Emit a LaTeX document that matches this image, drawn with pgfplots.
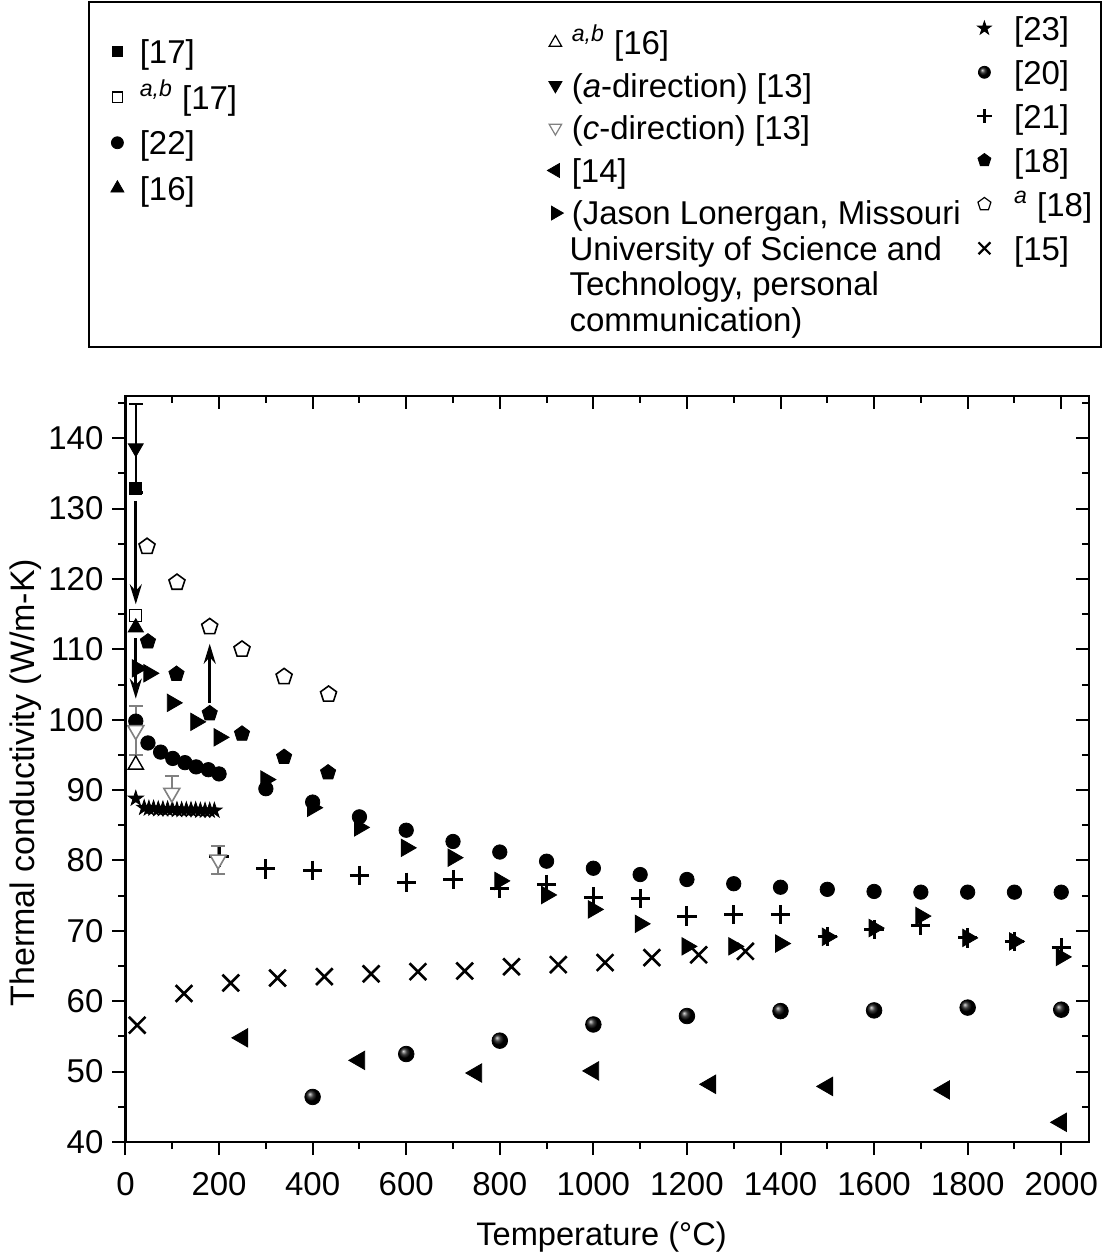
\documentclass[border=0pt]{standalone}
\usepackage{pgfplots}
\pgfplotsset{compat=1.18}
\usepackage{fontspec}
\setmainfont{Liberation Sans}
\usetikzlibrary{arrows.meta,plotmarks}

\pgfdeclareplotmark{fstar}{%
  \pgfpathmoveto{\pgfqpointpolar{90}{\pgfplotmarksize}}%
  \pgfpathlineto{\pgfqpointpolar{126}{0.382\pgfplotmarksize}}%
  \pgfpathlineto{\pgfqpointpolar{162}{\pgfplotmarksize}}%
  \pgfpathlineto{\pgfqpointpolar{198}{0.382\pgfplotmarksize}}%
  \pgfpathlineto{\pgfqpointpolar{234}{\pgfplotmarksize}}%
  \pgfpathlineto{\pgfqpointpolar{270}{0.382\pgfplotmarksize}}%
  \pgfpathlineto{\pgfqpointpolar{306}{\pgfplotmarksize}}%
  \pgfpathlineto{\pgfqpointpolar{342}{0.382\pgfplotmarksize}}%
  \pgfpathlineto{\pgfqpointpolar{18}{\pgfplotmarksize}}%
  \pgfpathlineto{\pgfqpointpolar{54}{0.382\pgfplotmarksize}}%
  \pgfpathclose
  \pgfusepathqfillstroke
}

\pgfplotsset{
  legimg/.style={legend image code/.code={\path (-6pt,0pt) (#1,0pt);\draw[##1] plot coordinates {(0pt,0pt)};}},
  legbase/.style={hide axis, scale only axis, width=481.9pt, height=373pt,
    xmin=0, xmax=1, ymin=0, ymax=1, legend cell align=left,
    legend style={draw=none, fill=none, inner sep=0pt, outer sep=0pt, column sep=0pt,
      anchor=north west,
      nodes={inner sep=0pt, text height=14pt, text depth=2.2pt, font=\fontsize{16.5}{19}\selectfont}}},
}

\begin{document}
\begin{tikzpicture}
\path[use as bounding box] (-62.75pt,-56pt) rectangle (489.25pt,571pt);
\draw[line width=1.2pt] (-18.25pt,397.5pt) rectangle (487.75pt,570pt);

\begin{axis}[
  scale only axis, width=481.9pt, height=373pt,
  xmin=0, xmax=2060, ymin=40, ymax=146,
  clip=false,
  xtick={0,200,...,2000}, minor xtick={100,300,...,1900},
  ytick={40,50,...,140}, minor ytick={45,55,...,145},
  xtick pos=left, ytick pos=left, tick align=outside,
  major tick length=6.5pt, minor tick length=3.5pt,
  every tick/.style={black, line width=1pt},
  axis line style={line width=1.1pt},
  ticklabel style={font=\fontsize{16.5}{19}\selectfont},
  xticklabel style={yshift=-5pt},
  yticklabel style={xshift=-1pt},
  /pgf/number format/1000 sep={},
  /pgf/number format/assume math mode=true,
  xlabel={Temperature (°C)},
  ylabel={Thermal conductivity (W/m-K)},
  xlabel style={font=\fontsize{16.3}{19}\selectfont, at={(axis description cs:0.4939,-0.1381)}, anchor=base},
  ylabel style={font=\fontsize{17}{20}\selectfont, at={(axis description cs:-0.0944,0.4818)}, anchor=base},
]
% annotation arrows
\draw[line width=1.5pt, -{Stealth[length=10pt,width=6pt]}] (axis cs:22,131.1) -- (axis cs:22,116.4);
\draw[line width=1.5pt, -{Stealth[length=10pt,width=6pt]}] (axis cs:22,111.6) -- (axis cs:22,103.0);
\draw[line width=1.5pt, -{Stealth[length=10pt,width=6pt]}] (axis cs:180,102.4) -- (axis cs:180,110.8);

% [13] a-direction
\addplot[only marks, black, mark=triangle*, mark size=4.3pt, mark options={rotate=180, fill=black},
  error bars/.cd, y dir=both, y explicit, error mark=|,
  error bar style={line width=1.2pt, black},
  error mark options={mark size=3.5pt, line width=1.2pt, black}]
  coordinates {(22,138.6) +- (0,6.3)};

% [17]
\addplot[only marks, black, mark=square*, mark size=3pt] coordinates {(22,132.8)};
\addplot[only marks, black, mark=square*, mark size=3pt, mark options={fill=white, line width=0.7pt}] coordinates {(22,114.8)};

% [18] a (open pentagons)
\addplot[only marks, black, mark=pentagon*, mark size=4.2pt, mark options={fill=white, line width=0.8pt}]
  coordinates {(46,124.6) (110,119.5) (180,113.2) (249,110.0) (339,106.1) (434,103.6)};

% [16]
\addplot[only marks, black, mark=triangle*, mark size=4.4pt] coordinates {(22,113.1)};
\addplot[only marks, black, mark=triangle*, mark size=4.4pt, mark options={fill=white, line width=0.7pt}] coordinates {(22,93.6)};

% [23] stars
\addplot[only marks, black, mark=fstar, mark size=4pt]
  coordinates {(22,88.8) (40,87.5) (50,87.4) (60,87.4) (70,87.3) (80,87.3) (90,87.3) (100,87.3)
  (110,87.2) (120,87.2) (130,87.2) (140,87.2) (150,87.2) (160,87.1) (170,87.1) (180,87.1) (190,87.1)};

% [22] filled circles
\addplot[only marks, black, mark=*, mark size=3.6pt]
  coordinates {(22,99.8) (48,96.7) (75,95.4) (101,94.5) (127,93.9) (151,93.3) (177,92.9) (200,92.3)
  (300,90.2) (400,88.3) (500,86.2) (600,84.3) (700,82.7) (800,81.2) (900,79.9) (1000,78.9)
  (1100,78.0) (1200,77.3) (1300,76.7) (1400,76.2) (1500,75.9) (1600,75.6) (1700,75.5)
  (1800,75.5) (1900,75.5) (2000,75.5)};

% [18] filled pentagons
\addplot[only marks, black, mark=pentagon*, mark size=4pt]
  coordinates {(48,111.1) (109,106.5) (180,100.9) (249,98.0) (339,94.7) (433,92.5)};

% Jason Lonergan (right triangles)
\addplot[only marks, black, mark=triangle*, mark size=5pt, mark options={rotate=-90}]
  coordinates {(25,107.3) (50,106.6) (100,102.4) (150,99.7) (200,97.5) (300,91.5) (400,87.5)
  (500,84.7) (600,81.8) (700,80.4) (800,77.1) (900,75.1) (1000,73.05) (1100,71.0) (1200,67.8)
  (1300,67.8) (1400,68.2) (1500,69.15) (1600,70.4) (1700,72.1) (1800,69.0) (1900,68.5) (2000,66.3)};

% [21] plus
\addplot[only marks, black, mark=+, mark size=4.8pt, mark options={line width=1.5pt}]
  coordinates {(200,80.5) (300,78.8) (400,78.6) (500,77.9) (600,76.9) (700,77.3) (800,76.0)
  (900,76.6) (1000,74.8) (1100,74.6) (1200,72.1) (1300,72.3) (1400,72.3) (1500,69.2)
  (1600,70.2) (1700,70.8) (1800,69.0) (1900,68.5) (2000,67.6)};

% [13] c-direction (gray open down triangles)
\addplot[only marks, gray, mark=triangle*, mark size=4.6pt, mark options={rotate=180, fill=white, draw=gray, line width=0.8pt},
  error bars/.cd, y dir=both, y explicit, error mark=|,
  error bar style={line width=1.1pt, gray},
  error mark options={mark size=3.5pt, line width=1.1pt, gray}]
  coordinates {(22,98.5) +- (0,3.5) (99,89.6) +- (0,2.4) (198,80.1) +- (0,2.0)};

% [15] crosses
\addplot[only marks, black, mark=x, mark size=5.9pt, mark options={line width=1.3pt}]
  coordinates {(25,56.6) (125,61.1) (225,62.6) (325,63.3) (425,63.5) (525,63.9) (625,64.2)
  (725,64.3) (825,64.9) (925,65.2) (1025,65.5) (1125,66.2) (1225,66.6) (1325,67.1)};

% [20] spheres
\addplot[only marks, black, mark=ball, ball color=black, mark size=3.9pt]
  coordinates {(400,46.4) (600,52.5) (800,54.4) (1000,56.7) (1200,57.9) (1400,58.6)
  (1600,58.7) (1800,59.1) (2000,58.8)};

% [14] left triangles
\addplot[only marks, black, mark=triangle*, mark size=5.3pt, mark options={rotate=90}]
  coordinates {(250,54.8) (500,51.6) (750,49.8) (1000,50.1) (1250,48.2) (1500,47.9) (1750,47.4) (2000,42.8)};
\end{axis}

% top and right inward ticks
\begin{axis}[
  scale only axis, width=481.9pt, height=373pt,
  xmin=0, xmax=2060, ymin=40, ymax=146,
  xtick={0,200,...,2000}, minor xtick={100,300,...,1900},
  ytick={40,50,...,140}, minor ytick={45,55,...,145},
  xtick pos=right, ytick pos=right, tick align=inside,
  xticklabels={}, yticklabels={},
  major tick length=6.5pt, minor tick length=3.5pt,
  every tick/.style={black, line width=1pt},
  axis line style={line width=1.1pt},
]
\end{axis}

% legend column 1
\begin{axis}[legbase, legimg=11pt,
  legend style={at={(-0.02127,1.48324)}, row sep=6.57pt}]
\addlegendimage{black, mark=square*, mark size=2.6pt}
\addlegendentry{[17]}
\addlegendimage{black, mark=square*, mark size=2.6pt, mark options={fill=white, line width=0.6pt}}
\addlegendentry{\textsuperscript{\textit{a,b}} [17]}
\addlegendimage{black, mark=*, mark size=3pt}
\addlegendentry{[22]}
\addlegendimage{black, mark=triangle*, mark size=3.8pt}
\addlegendentry{[16]}
\end{axis}

% legend column 2
\begin{axis}[legbase, legimg=8pt,
  legend style={at={(0.43318,1.49531)}, row sep=5.1pt}]
\addlegendimage{black, mark=triangle*, mark size=3.6pt, mark options={fill=white, line width=0.6pt}}
\addlegendentry{\textsuperscript{\textit{a,b}} [16]}
\addlegendimage{black, mark=triangle*, mark size=3.8pt, mark options={rotate=180}}
\addlegendentry{(\textit{a}-direction) [13]}
\addlegendimage{gray, mark=triangle*, mark size=3.6pt, mark options={rotate=180, fill=white, draw=gray, line width=0.6pt}}
\addlegendentry{(\textit{c}-direction) [13]}
\addlegendimage{black, mark=triangle*, mark size=4pt, mark options={rotate=90}}
\addlegendentry{[14]}
\addlegendimage{black, mark=triangle*, mark size=4pt, mark options={rotate=-90}}
\addlegendentry{(Jason Lonergan, Missouri}
\end{axis}

% legend column 3
\begin{axis}[legbase, legimg=14.65pt,
  legend style={at={(0.87829,1.51461)}, row sep=5.8pt}]
\addlegendimage{black, mark=fstar, mark size=3.6pt}
\addlegendentry{[23]}
\addlegendimage{black, mark=ball, ball color=black, mark size=3pt}
\addlegendentry{[20]}
\addlegendimage{black, mark=+, mark size=3.6pt, mark options={line width=1.2pt}}
\addlegendentry{[21]}
\addlegendimage{black, mark=pentagon*, mark size=3.4pt}
\addlegendentry{[18]}
\addlegendimage{black, mark=pentagon*, mark size=3.4pt, mark options={fill=white, line width=0.6pt}}
\addlegendentry{\textsuperscript{\textit{a}} [18]}
\addlegendimage{black, mark=x, mark size=4.2pt, mark options={line width=1.1pt}}
\addlegendentry{[15]}
\end{axis}

\begin{scope}[every node/.style={anchor=base west, inner sep=0pt, font=\fontsize{16.5}{19}\selectfont}]
\node at (221.85pt,440.75pt) {University of Science and};
\node at (221.85pt,423.05pt) {Technology, personal};
\node at (221.85pt,405.35pt) {communication)};
\end{scope}
\end{tikzpicture}
\end{document}
